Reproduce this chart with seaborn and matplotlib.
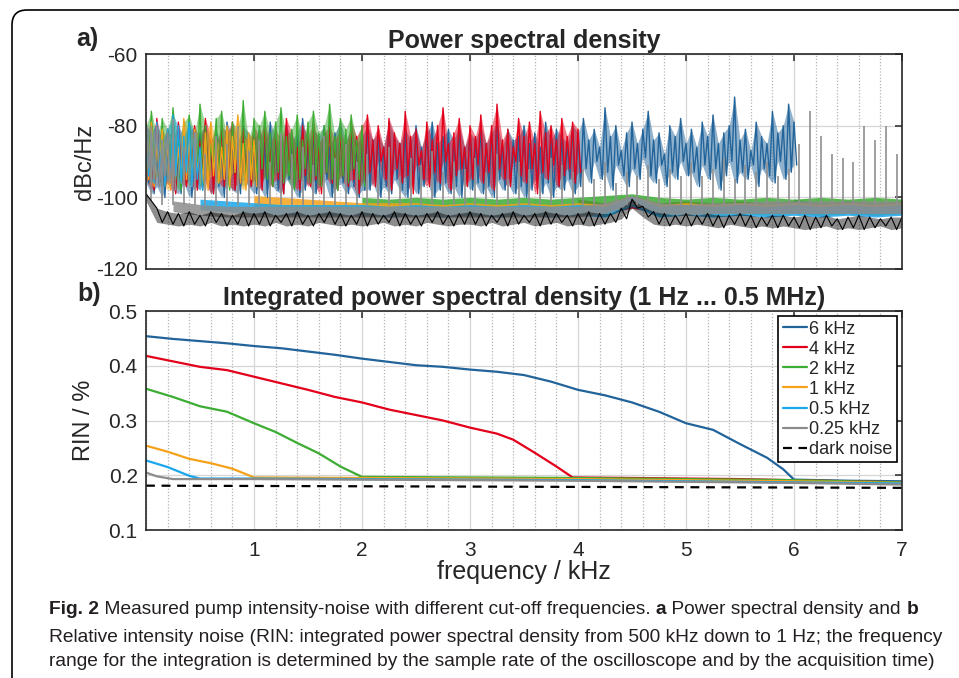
import numpy as np
import pandas as pd
import matplotlib
matplotlib.use("Agg")
import matplotlib.pyplot as plt
import matplotlib.patches as mpatches
from matplotlib.ticker import MultipleLocator
import seaborn as sns

# ---------------- data ----------------
labels = ['6 kHz', '4 kHz', '2 kHz', '1 kHz', '0.5 kHz', '0.25 kHz', 'dark noise']
colors = ['#22649a', '#e3001b', '#3cac33', '#f5a21b', '#1aa7ec', '#8c8c8c', '#000000']
cutoffs = [6.0, 4.0, 2.0, 1.0, 0.5, 0.25]

# panel a) noise band below the cut-off (0.05 kHz steps), upper / lower edge in dBc/Hz
band6_hi = [-82, -79, -85, -81, -84, -80, -86, -83, -79, -85, -82, -80, -84, -81, -86, -79, -83, -85, -80, -82, -84,
            -81, -85, -79, -83, -86, -80, -84, -82, -78, -85, -81, -83, -80, -86, -82, -79, -84, -81, -85, -83,
            -80, -84, -82, -86, -79, -83, -85, -81, -84, -80, -86, -82, -79, -85, -83, -81, -84, -80, -86, -82,
            -84, -80, -85, -82, -79, -86, -81, -84, -83, -80, -85, -82, -86, -79, -84, -81, -83, -85, -80, -82,
            -78, -84, -81, -86, -75, -83, -80, -87, -82, -79, -85, -81, -76, -84, -82, -88, -80, -83, -78, -85,
            -81, -86, -79, -83, -77, -85, -82, -80, -72, -84, -81, -87, -79, -83, -85, -76, -82, -80, -74, -79]
band6_lo = [-96, -99, -97, -100, -95, -98, -99, -96, -100, -97, -98, -95, -99, -97, -100, -96, -98, -99, -95, -97, -99,
            -97, -100, -96, -98, -99, -95, -97, -100, -98, -96, -99, -97, -95, -100, -98, -96, -99, -97, -100, -98,
            -98, -96, -100, -97, -99, -95, -98, -100, -96, -99, -97, -95, -100, -98, -96, -99, -97, -100, -95, -98,
            -96, -99, -97, -100, -95, -98, -96, -99, -97, -100, -98, -95, -99, -96, -100, -97, -98, -95, -99, -97,
            -92, -96, -90, -95, -93, -98, -91, -94, -97, -92, -95, -89, -94, -96, -91, -97, -93, -95, -90, -94,
            -93, -97, -91, -95, -92, -98, -94, -90, -96, -93, -95, -91, -97, -92, -94, -96, -90, -95, -93, -91]
band4_hi = [-80, -83, -78, -85, -81, -84, -79, -86, -82, -80, -84, -78, -83, -85, -80, -82, -79, -84, -81, -86, -80,
            -83, -79, -85, -81, -84, -78, -82, -86, -80, -83, -79, -85, -82, -80, -84, -81, -86, -79, -83, -80,
            -77, -84, -80, -86, -78, -82, -85, -76, -83, -81, -87, -79, -84, -80, -75, -85, -82, -78, -86, -80,
            -83, -77, -85, -80, -74, -84, -81, -86, -78, -83, -79, -85, -76, -82, -80, -84, -78, -83, -79, -81]
band4_lo = [-95, -98, -93, -97, -96, -99, -94, -97, -95, -98, -93, -96, -99, -94, -97, -95, -98, -96, -93, -97, -95,
            -98, -94, -97, -95, -99, -93, -96, -98, -94, -97, -95, -99, -93, -96, -98, -94, -97, -95, -99, -96,
            -93, -97, -90, -95, -98, -92, -96, -94, -99, -91, -95, -97, -93, -96, -90, -98, -94, -92, -97, -95,
            -91, -96, -93, -98, -92, -95, -97, -90, -94, -96, -92, -99, -93, -95, -91, -97, -94, -92, -96, -93]
band2_hi = [-80, -76, -83, -78, -81, -75, -84, -79, -77, -82, -74, -80, -85, -78, -76, -83, -79, -81, -73, -84, -78,
            -80, -76, -82, -79, -75, -83, -81, -77, -84, -79, -76, -82, -80, -74, -83, -78, -81, -77, -84, -80]
band2_lo = [-93, -96, -94, -97, -92, -95, -98, -94, -96, -93, -97, -95, -92, -96, -94, -98, -93, -95, -97, -94, -96,
            -92, -95, -97, -93, -96, -94, -98, -95, -92, -96, -94, -97, -93, -95, -98, -94, -96, -92, -95, -97]
band1_hi = [-82, -79, -85, -81, -84, -80, -86, -78, -83, -81, -87, -82, -79, -84, -86, -80, -83, -77, -85, -82, -84]
band1_lo = [-95, -97, -93, -96, -98, -94, -96, -95, -97, -93, -96, -98, -94, -96, -95, -97, -93, -96, -98, -95, -97]
band05_hi = [-80, -82, -79, -84, -81, -77, -80, -83, -79, -82, -86]
band05_lo = [-94, -96, -93, -97, -95, -94, -96, -93, -97, -95, -98]
band025_hi = [-79, -83, -80, -85, -82, -86]
band025_lo = [-92, -95, -97, -94, -96, -98]

# noise floor above the cut-off (0.25 kHz steps up to 7 kHz)
floor6_hi = [-100.5, -101.5, -101, -101.5, -101]
floor6_lo = [-104.5, -105, -104.5, -105, -104.5]
floor4_hi = [-100.5, -101.5, -99.5, -101.5, -101, -101.5, -101, -101.5, -101, -101.5, -101, -101.5, -101]
floor4_lo = [-104, -104.5, -103, -104.5, -104, -104.5, -104, -104.5, -104, -104.5, -104, -104.5, -104]
floor2_hi = [-100, -100.5, -100, -100.5, -100, -100.5, -100, -100.5, -100, -99.5, -99, -100, -100.5, -100, -100.5,
             -100, -100.5, -100, -100.5, -100, -100.5]
floor2_lo = [-102.5, -103, -102.5, -103, -102.5, -103, -102.5, -103, -102.5, -102, -101.5, -102.5, -103, -102.5, -103,
             -102.5, -103, -102.5, -103, -102.5, -103]
floor1_hi = [-99.5, -100, -100.5, -101, -101.5, -101.5, -101.5, -102, -101.5, -102, -101.5, -102, -101.5, -102, -99.5,
             -102, -101.5, -102, -101.5, -102, -101.5, -102, -101.5, -102, -101.5]
floor1_lo = [-102.5, -103, -103.5, -104, -104.5, -104.5, -104.5, -105, -104.5, -105, -104.5, -105, -104.5, -105, -102,
             -105, -104.5, -105, -104.5, -105, -104.5, -105, -104.5, -105, -104.5]
floor05_hi = [-100.5, -101, -101.5, -102, -102, -102, -102, -102.5, -102, -102.5, -102, -102.5, -102, -102.5, -102,
              -102.5, -99.5, -102.5, -102, -102.5, -102, -102.5, -102, -102.5, -102, -102.5, -102]
floor05_lo = [-103.5, -104, -104.5, -105, -105, -105, -105, -105.5, -105, -105.5, -105, -105.5, -105, -105.5, -105,
              -105.5, -102.5, -105.5, -105, -105.5, -105, -105.5, -105, -105.5, -105, -105.5, -105]
floor025_hi = [-101, -102, -102.5, -102.5, -102.5, -102.5, -102.5, -102.5, -102.5, -102.5, -102.5, -102.5, -102.5,
               -102.5, -102.5, -102.5, -101.5, -99.5, -101.5, -102, -101.5, -101.5, -101, -101, -101, -101, -101, -101]
floor025_lo = [-104, -105, -105.5, -105.5, -105.5, -105.5, -105.5, -105.5, -105.5, -105.5, -105.5, -105.5, -105.5,
               -105.5, -105.5, -105.5, -104.5, -102, -104.5, -105, -104.5, -104.5, -104.5, -104.5, -104.5, -104.5,
               -104.5, -104.5]

# dark noise, 0 ... 7 kHz in 0.1 kHz steps
dark_hi = [-99, -103, -104, -104.5, -104, -105, -104, -104.5, -105, -104,
           -104.5, -104, -105, -104.5, -104, -105, -104.5, -104, -104.5, -105,
           -104, -104.5, -105, -104, -104.5, -105, -104.5, -104, -105, -104.5,
           -104, -104.5, -105, -104.5, -104, -105, -104.5, -104, -104.5, -105,
           -104.5, -104, -104.5, -104.5, -103, -100.5, -102.5, -104, -104.5, -105,
           -104.5, -105, -104.5, -105, -105, -104.5, -105, -105.5, -105, -105,
           -105.5, -105, -105.5, -105, -106, -105.5, -105, -105.5, -106, -105.5, -105.5]
dark_lo = [-101, -107, -107.5, -108, -107.5, -108, -107, -108, -107.5, -108,
           -107.5, -108, -107, -108, -107.5, -108, -107, -107.5, -108, -107.5,
           -108, -107.5, -107, -108, -107.5, -108, -107, -107.5, -108, -107.5,
           -107.5, -108, -107, -108, -107.5, -107, -108, -107.5, -107, -108,
           -107.5, -108, -107.5, -107, -106, -103, -105.5, -107.5, -108, -107.5,
           -108, -107.5, -108, -108.5, -107.5, -108, -108.5, -108, -108.5, -108,
           -108.5, -109, -108.5, -108, -109, -108.5, -109, -108.5, -108, -109, -108.5]

# 100 Hz harmonic spikes (0.05, 0.15, ... 6.95 kHz), peak level in dBc/Hz
spike_f = np.round(np.arange(0.05, 7.0, 0.1), 2)
spike_db = [-80, -84, -78, -86, -82, -88, -83, -85, -80, -87,
            -84, -90, -82, -88, -86, -91, -83, -89, -85, -90,
            -88, -92, -86, -94, -89, -91, -87, -93, -90, -92,
            -89, -93, -88, -95, -90, -92, -94, -89, -91, -93,
            -92, -95, -90, -96, -93, -94, -91, -95, -92, -94,
            -90, -94, -92, -89, -95, -91, -93, -90, -94, -92,
            -85, -76, -83, -88, -89, -90, -80, -84, -80, -88]
spike_base = -102

bands = [(band6_hi, band6_lo), (band4_hi, band4_lo), (band2_hi, band2_lo),
         (band1_hi, band1_lo), (band05_hi, band05_lo), (band025_hi, band025_lo)]
floors = [(floor6_hi, floor6_lo), (floor4_hi, floor4_lo), (floor2_hi, floor2_lo),
          (floor1_hi, floor1_lo), (floor05_hi, floor05_lo), (floor025_hi, floor025_lo)]

# panel b) integrated RIN in %
rin6_f = [0, 0.25, 0.5, 0.75, 1.0, 1.25, 1.5, 1.75, 2.0, 2.25, 2.5, 2.75, 3.0, 3.25, 3.5, 3.75, 4.0, 4.25,
          4.5, 4.75, 5.0, 5.25, 5.5, 5.6, 5.75, 5.9, 6.0, 6.5, 7.0]
rin6 = [0.454, 0.449, 0.445, 0.441, 0.436, 0.432, 0.426, 0.420, 0.413, 0.407, 0.401, 0.398, 0.393, 0.389,
        0.383, 0.371, 0.356, 0.346, 0.333, 0.316, 0.295, 0.283, 0.257, 0.247, 0.232, 0.211, 0.192, 0.190, 0.189]
rin4_f = [0, 0.25, 0.5, 0.75, 1.0, 1.25, 1.5, 1.75, 2.0, 2.25, 2.5, 2.75, 3.0, 3.25, 3.4, 3.6, 3.8, 3.95,
          4.5, 5.0, 5.5, 6.0, 6.5, 7.0]
rin4 = [0.418, 0.408, 0.398, 0.392, 0.380, 0.368, 0.356, 0.343, 0.333, 0.320, 0.310, 0.300, 0.287, 0.276,
        0.265, 0.241, 0.216, 0.196, 0.195, 0.194, 0.193, 0.191, 0.189, 0.187]
rin2_f = [0, 0.25, 0.5, 0.75, 1.0, 1.2, 1.4, 1.6, 1.8, 2.0, 3.0, 4.0, 5.0, 6.0, 7.0]
rin2 = [0.358, 0.343, 0.326, 0.316, 0.295, 0.279, 0.259, 0.240, 0.216, 0.197, 0.196, 0.195, 0.193, 0.191, 0.187]
rin1_f = [0, 0.2, 0.4, 0.6, 0.8, 1.0, 2.0, 3.0, 4.0, 5.0, 6.0, 7.0]
rin1 = [0.254, 0.243, 0.230, 0.222, 0.212, 0.196, 0.195, 0.194, 0.193, 0.191, 0.189, 0.186]
rin05_f = [0, 0.2, 0.4, 0.5, 1.0, 2.0, 3.0, 4.0, 5.0, 6.0, 7.0]
rin05 = [0.227, 0.215, 0.199, 0.194, 0.194, 0.193, 0.192, 0.191, 0.189, 0.187, 0.185]
rin025_f = [0, 0.1, 0.25, 1.0, 2.0, 3.0, 4.0, 5.0, 6.0, 7.0]
rin025 = [0.205, 0.198, 0.193, 0.193, 0.192, 0.191, 0.190, 0.188, 0.186, 0.183]
rindark_f = [0, 7.0]
rindark = [0.181, 0.177]

rin_curves = [(rin6_f, rin6), (rin4_f, rin4), (rin2_f, rin2), (rin1_f, rin1),
              (rin05_f, rin05), (rin025_f, rin025), (rindark_f, rindark)]

caption = [
    [('Fig. 2', True), (' Measured pump intensity-noise with different cut-off frequencies. ', False),
     ('a', True), (' Power spectral density and ', False), ('b', True)],
    [('Relative intensity noise (RIN: integrated power spectral density from 500 kHz down to 1 Hz; '
      'the frequency', False)],
    [('range for the integration is determined by the sample rate of the oscilloscope and by the '
      'acquisition time)', False)],
]
caption_right = [943, 945, 955]

# ---------------- figure ----------------
W, H = 959, 678
sns.set_theme(style='white')
plt.rcParams['font.family'] = ['Liberation Sans', 'DejaVu Sans']
plt.rcParams['axes.unicode_minus'] = False

fig = plt.figure(figsize=(W / 100, H / 100), dpi=100)
ax1 = fig.add_axes([146 / W, 1 - 269 / H, 756 / W, 215 / H])
ax2 = fig.add_axes([146 / W, 1 - 530 / H, 756 / W, 219 / H])


def style_axes(ax):
    ax.set_xlim(0, 7)
    ax.set_xticks(range(1, 8))
    ax.xaxis.set_minor_locator(MultipleLocator(0.2))
    ax.grid(which='major', color='#d6d6d6', lw=0.9, ls='-')
    ax.grid(which='minor', axis='x', color='#b4b4b4', lw=0.9, ls=(0, (1, 1.5)))
    ax.set_axisbelow(True)
    ax.tick_params(which='major', direction='in', length=5, width=1.1, top=True, right=True,
                   labelsize=15, colors='#262626', pad=6)
    ax.tick_params(axis='x', which='major', pad=8)
    ax.tick_params(which='minor', direction='in', length=0)
    for sp in ax.spines.values():
        sp.set_linewidth(1.2)
        sp.set_color('#262626')


def zigzag(f, hi, lo, step):
    # upper and lower edge alternate, giving the dense look of a noisy spectrum
    x = np.empty(2 * len(f))
    y = np.empty(2 * len(f))
    x[0::2], x[1::2] = f, f + step / 2
    y[0::2], y[1::2] = hi, lo
    return x, y


# --- a) power spectral density
for (hi, lo), (fhi, flo), cut, c in zip(bands, floors, cutoffs, colors):
    f_band = np.linspace(0, cut, len(hi))
    ax1.fill_between(f_band, lo, hi, color=c, alpha=0.5, lw=0)
    x, y = zigzag(f_band, hi, lo, 0.05)
    ax1.plot(x, y, color=c, lw=1.0)
    f_floor = np.linspace(cut, 7, len(fhi))
    ax1.fill_between(f_floor, flo, fhi, color=c, alpha=0.85, lw=0)
ax1.vlines(spike_f, spike_base, spike_db, colors='#8f8f8f', lw=1.2)
f_dark = np.linspace(0, 7, len(dark_hi))
ax1.fill_between(f_dark, dark_lo, dark_hi, color='black', alpha=0.45, lw=0)
x, y = zigzag(f_dark, dark_hi, dark_lo, 0.1)
ax1.plot(x, y, color='black', lw=0.8)

style_axes(ax1)
ax1.set_ylim(-120, -60)
ax1.set_yticks([-120, -100, -80, -60])
ax1.set_xticklabels([])
ax1.set_ylabel('dBc/Hz', fontsize=17)
ax1.yaxis.set_label_coords(-0.066, 0.5)
ax1.set_title('Power spectral density', fontsize=18, fontweight='bold', pad=4)

# --- b) integrated RIN
for (fx, ry), lab, c in zip(rin_curves, labels, colors):
    df = pd.DataFrame({'f': fx, 'rin': ry})
    ls = (0, (4, 3)) if lab == 'dark noise' else '-'
    sns.lineplot(data=df, x='f', y='rin', ax=ax2, color=c, lw=1.6, ls=ls, label=lab,
                 estimator=None, sort=False)

style_axes(ax2)
ax2.set_ylim(0.1, 0.5)
ax2.set_yticks([0.1, 0.2, 0.3, 0.4, 0.5])
ax2.set_yticklabels(['0.1', '0.2', '0.3', '0.4', '0.5'])
ax2.set_xlabel('frequency / kHz', fontsize=18)
ax2.xaxis.set_label_coords(0.5, -0.135)
ax2.set_ylabel('RIN / %', fontsize=17)
ax2.yaxis.set_label_coords(-0.068, 0.5)
ax2.set_title('Integrated power spectral density (1 Hz ... 0.5 MHz)', fontsize=18,
              fontweight='bold', pad=4)
leg = ax2.legend(loc='upper right', bbox_to_anchor=(0.9934, 0.977), borderaxespad=0,
                 fontsize=13, frameon=True, fancybox=False, framealpha=1, edgecolor='black',
                 handlelength=1.35, handletextpad=0.1, labelspacing=0.17, borderpad=0.25)
leg.get_frame().set_linewidth(1.2)

fig.text(76 / W, 1 - 39 / H, 'a)', fontsize=18, fontweight='bold', va='center', ha='left')
fig.text(77 / W, 1 - 294 / H, 'b)', fontsize=18, fontweight='bold', va='center', ha='left')

# rounded frame around the figure (runs off the right and bottom edge)
frame = mpatches.FancyBboxPatch((12, -30), 990, 698, boxstyle='round,pad=0,rounding_size=15',
                                transform=None, fill=False, ec='black', lw=1.2)
fig.add_artist(frame)

# caption with bold pieces
fig.canvas.draw()
renderer = fig.canvas.get_renderer()


def text_width(s, size, bold):
    t1 = fig.text(0, 0, '|' + s + '|', fontsize=size, fontweight='bold' if bold else 'normal')
    t2 = fig.text(0, 0, '||', fontsize=size, fontweight='bold' if bold else 'normal')
    w = t1.get_window_extent(renderer).width - t2.get_window_extent(renderer).width
    t1.remove()
    t2.remove()
    return w


x_cap = 49
size = 12
scale = min((right - x_cap) / sum(text_width(t, size, b) for t, b in line)
            for line, right in zip(caption, caption_right))
size = size * scale

for line, y in zip(caption, [610, 637, 662]):
    x = x_cap
    for txt, bold in line:
        fig.text(x / W, 1 - y / H, txt, fontsize=size, fontweight='bold' if bold else 'normal',
                 va='center', ha='left', color='#231f20')
        x += text_width(txt, size, bold)

fig.savefig('out.png', dpi=100)
